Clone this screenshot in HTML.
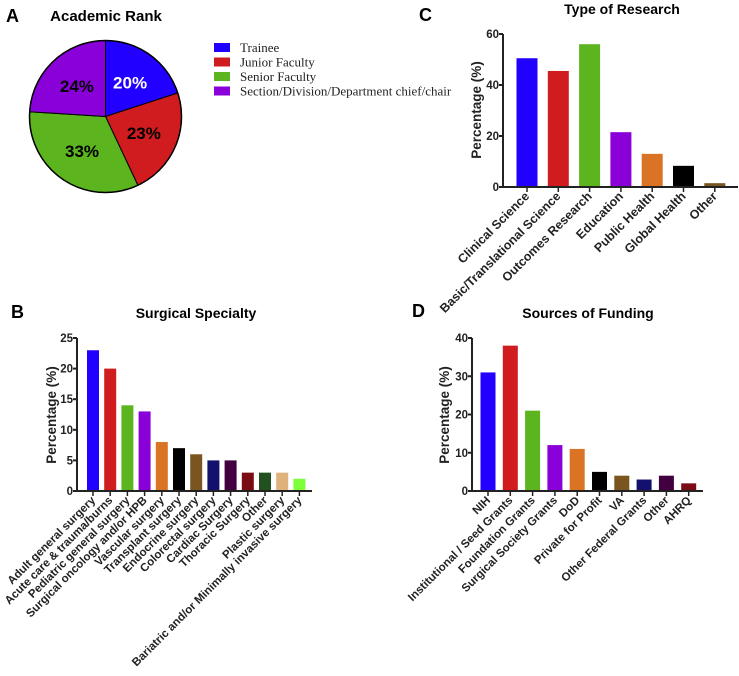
<!DOCTYPE html>
<html><head><meta charset="utf-8">
<style>
body{margin:0;background:#fff;}
svg{display:block;font-family:"Liberation Sans",Arial,sans-serif;}
</style></head><body>
<svg id="fig" width="739" height="676" viewBox="0 0 739 676">
<text x="6" y="22" font-size="18" font-weight="bold">A</text>
<text x="106" y="21" font-size="15" font-weight="bold" text-anchor="middle">Academic Rank</text>
<g id="pie"></g>
<g id="legend"></g>
<text x="11" y="318" font-size="18" font-weight="bold">B</text>
<text x="196" y="318" font-size="14" font-weight="bold" text-anchor="middle">Surgical Specialty</text>
<text x="419" y="21" font-size="18" font-weight="bold">C</text>
<text x="622" y="14" font-size="14" font-weight="bold" text-anchor="middle">Type of Research</text>
<text x="412" y="317" font-size="18" font-weight="bold">D</text>
<text x="588" y="318" font-size="14" font-weight="bold" text-anchor="middle">Sources of Funding</text>
<g id="chartB"></g>
<g id="chartC"></g>
<g id="chartD"></g>
</svg>
<script>
const pieLabels=["Trainee","Junior Faculty","Senior Faculty","Section/Division/Department chief/chair"];
const pieValues=[20,23,33,24];
const pieColors=["#2200ff","#d01c1f","#5cb41e","#8a00d8"];
const pieTextColors=["#fff","#000","#000","#000"];

const bCats=["Adult general surgery","Acute care & trauma/burns","Pediatric general surgery","Surgical oncology and/or HPB","Vascular surgery","Transplant surgery","Endocrine surgery","Colorectal surgery","Cardiac Surgery","Thoracic Surgery","Other","Plastic surgery","Bariatric and/or Minimally invasive surgery"];
const bValues=[23,20,14,13,8,7,6,5,5,3,3,3,2];
const bTicks=[0,5,10,15,20,25];
const bColors=["#2200ff","#d01c1f","#5cb41e","#8a00d8","#db7324","#000000","#7a5520","#14106e","#420040","#7a0d14","#22501e","#deb27a","#7dff3a"];

const cCats=["Clinical Science","Basic/Translational Science","Outcomes Research","Education","Public Health","Global Health","Other"];
const cValues=[50.5,45.5,56,21.5,13,8.3,1.5];
const cTicks=[0,20,40,60];
const cColors=["#2200ff","#d01c1f","#5cb41e","#8a00d8","#db7324","#000000","#7a5520"];

const dCats=["NIH","Institutional / Seed Grants","Foundation Grants","Surgical Society Grants","DoD","Private for Profit","VA","Other Federal Grants","Other","AHRQ"];
const dValues=[31,38,21,12,11,5,4,3,4,2];
const dTicks=[0,10,20,30,40];
const dColors=["#2200ff","#d01c1f","#5cb41e","#8a00d8","#db7324","#000000","#7a5520","#14106e","#420040","#7a0d14"];

const NS="http://www.w3.org/2000/svg";
function mk(tag,attrs,parent){const e=document.createElementNS(NS,tag);for(const k in attrs)e.setAttribute(k,attrs[k]);parent.appendChild(e);return e;}

(function(){
  const g=document.getElementById('pie');
  const cx=105.5,cy=116.5,r=76;
  const tot=pieValues.reduce((a,b)=>a+b,0);
  let a0=-Math.PI/2;
  pieValues.forEach((v,i)=>{
    const a1=a0+v/tot*2*Math.PI;
    const x0=cx+r*Math.cos(a0),y0=cy+r*Math.sin(a0),x1=cx+r*Math.cos(a1),y1=cy+r*Math.sin(a1);
    const p=mk('path',{d:`M${cx},${cy}L${x0},${y0}A${r},${r} 0 ${a1-a0>Math.PI?1:0} 1 ${x1},${y1}Z`,fill:pieColors[i],stroke:'#000','stroke-width':1},g);
    
    
    const am=(a0+a1)/2;
    const t=mk('text',{x:cx+r*0.55*Math.cos(am),y:cy+r*0.55*Math.sin(am)+6,'font-size':17,'font-weight':'bold','text-anchor':'middle',fill:pieTextColors[i]},g);
    t.textContent=v+'%';
    
    
    a0=a1;
  });
  mk('circle',{cx:cx,cy:cy,r:r,fill:'none',stroke:'#000','stroke-width':1.5},g);
  const lg=document.getElementById('legend');
  pieLabels.forEach((l,i)=>{
    const y=48+i*14.5;
    const s=mk('rect',{x:214,y:y-5,width:16,height:9,fill:pieColors[i]},lg);
    
    
    const t=mk('text',{x:240,y:y+4,'font-size':13,'font-family':'"Liberation Serif",serif',fill:'#222'},lg);
    t.textContent=l;
    
    
  });
})();

function barChart(id,cats,vals,ticks,colors,o){
  const g=document.getElementById(id);
  const max=ticks[ticks.length-1];
  const ys=v=>o.y0-(v/max)*(o.y0-o.yTop);
  const xs=i=>o.x1+i*o.step;
  vals.forEach((v,i)=>{
    const b=mk('rect',{x:xs(i)-o.bw/2,y:ys(v),width:o.bw,height:o.y0-ys(v),fill:colors[i]},g);
    
    
  });
  const ya=mk('line',{x1:o.ax,y1:o.yTop,x2:o.ax,y2:o.y0+1,stroke:'#222','stroke-width':2},g);
  
  
  const xa=mk('line',{x1:o.ax,y1:o.y0,x2:o.axEnd,y2:o.y0,stroke:'#222','stroke-width':2},g);
  
  
  ticks.forEach(t=>{
    mk('line',{x1:o.ax-4,y1:ys(t),x2:o.ax,y2:ys(t),stroke:'#222','stroke-width':2},g);
    const tl=mk('text',{x:o.ax-4,y:ys(t)+4,'font-size':11.5,'font-weight':'bold','text-anchor':'end',fill:'#222'},g);
    tl.textContent=t;
    
    
  });
  cats.forEach((c,i)=>{
    mk('line',{x1:xs(i),y1:o.y0,x2:xs(i),y2:o.y0+5,stroke:'#222','stroke-width':1.5},g);
    const x=xs(i)+3,y=o.y0+10;
    const tl=mk('text',{x:x,y:y,'font-size':o.lf,'font-weight':'bold','text-anchor':'end',fill:'#222',transform:`rotate(-45 ${x} ${y})`},g);
    tl.textContent=c;
    
    
  });
  const yt=mk('text',{x:o.ytx,y:o.yty,'font-size':13.5,'font-weight':'bold','text-anchor':'middle',fill:'#222',transform:`rotate(-90 ${o.ytx} ${o.yty})`},g);
  yt.textContent='Percentage (%)';
  
  
}
barChart('chartB',bCats,bValues,bTicks,bColors,{ax:77,axEnd:312,y0:491,yTop:338,x1:93,step:17.2,bw:12,ytx:56,yty:415,lf:11.5});
barChart('chartC',cCats,cValues,cTicks,cColors,{ax:503,axEnd:738,y0:187,yTop:34,x1:527,step:31.3,bw:21,ytx:481,yty:110,lf:12.5});
barChart('chartD',dCats,dValues,dTicks,dColors,{ax:472,axEnd:703,y0:491,yTop:338,x1:488,step:22.3,bw:15,ytx:449,yty:415,lf:11.5});
</script>
</body></html>
